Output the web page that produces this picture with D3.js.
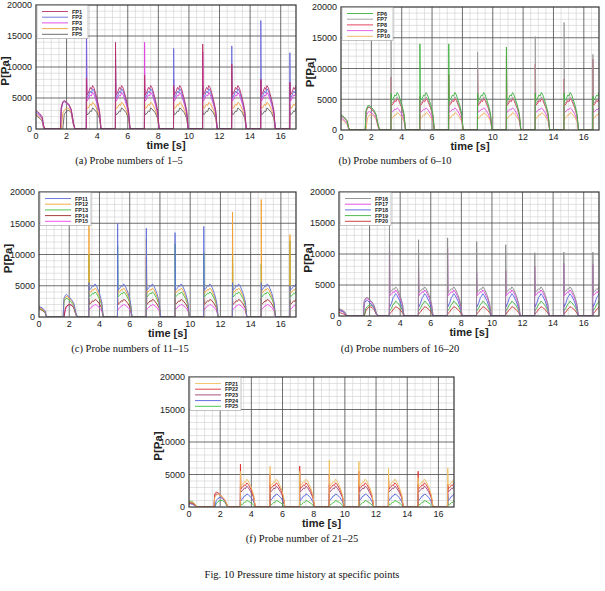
<!DOCTYPE html>
<html>
<head>
<meta charset="utf-8">
<script src="https://cdnjs.cloudflare.com/ajax/libs/d3/7.8.5/d3.min.js"></script>
<style>
  body { margin: 0; background: #fff; }
  svg { display: block; }
</style>
</head>
<body>
<svg id="chart"></svg>
<script>
var svgWidth = 605, svgHeight = 591;

// shared time grid (s)
var cycleStarts = [3.3, 5.2, 7.1, 9.0, 10.9, 12.8, 14.7, 16.6];
var hump0Times = [0, 0.1, 0.25, 0.4, 0.5, 0.6];
var hump1Times = [1.6, 1.65, 1.75, 1.85, 2.0, 2.15, 2.3, 2.45, 2.55];
var pulseOffsets = [0.03, 0.12, 0.25, 0.32, 0.4, 0.5, 0.7, 0.85, 0.95];
var xTicks = [0, 2, 4, 6, 8, 10, 12, 14, 16];
var yTicks = [0, 5000, 10000, 15000, 20000];

// (a) FP1-FP5
var namesA = ["FP1", "FP2", "FP3", "FP4", "FP5"];
var hump0A = [[3000, 2800, 2500, 2000, 600, 0], [2800, 2600, 2300, 1800, 400, 0], [2600, 2400, 2100, 1700, 300, 0], [2400, 2200, 1900, 1500, 200, 0], [2200, 2000, 1700, 1300, 100, 0]];
var hump1A = [[0, 3500, 4400, 4600, 4300, 4000, 3200, 1000, 0], [0, 3300, 4300, 4500, 4200, 3900, 3100, 900, 0], [0, 3000, 4200, 4400, 4100, 3800, 3000, 800, 0], [0, 0, 2500, 3000, 3400, 3300, 2700, 700, 0], [0, 0, 0, 2400, 2900, 3000, 2600, 600, 0]];
var pulseA = [[5500, 5800, 6700, 6400, 7000, 6600, 4800, 3000, 0], [5000, 5300, 6100, 5800, 6500, 6100, 4400, 2800, 0], [4500, 4800, 5500, 5300, 5900, 5500, 4000, 2500, 0], [3300, 3400, 4000, 3800, 4300, 4100, 3100, 2000, 0], [2300, 2400, 2900, 2800, 3400, 3200, 2600, 1700, 0]];
var spikesA = [[8200, 14000, 8700, 7000, 13700, 10500, 8000, 7500], [15000, 12500, 6500, 13000, 7000, 13400, 17500, 12300], [20000, 9000, 14000, 8000, 12400, 6000, 8000, 7500], [5500, 5000, 4500, 4500, 4500, 4500, 4500, 4000], [3500, 3000, 3000, 3000, 3000, 3000, 3000, 2800]];

// (b) FP6-FP10
var namesB = ["FP6", "FP7", "FP8", "FP9", "FP10"];
var hump0B = [[2500, 2300, 2000, 1500, 400, 0], [2300, 2100, 1800, 1400, 300, 0], [2400, 2200, 1900, 1500, 400, 0], [2000, 1800, 1500, 1100, 200, 0], [1800, 1600, 1300, 900, 100, 0]];
var hump1B = [[0, 3200, 3900, 4000, 3700, 3300, 2600, 800, 0], [0, 3000, 3700, 3800, 3500, 3100, 2500, 700, 0], [0, 2900, 3600, 3700, 3400, 3000, 2400, 700, 0], [0, 2200, 2800, 3000, 2800, 2500, 2000, 500, 0], [0, 0, 2000, 2400, 2500, 2300, 1800, 400, 0]];
var pulseB = [[4800, 5000, 5700, 5500, 6100, 5700, 4200, 2700, 0], [4300, 4500, 5100, 4900, 5400, 5100, 3800, 2400, 0], [4000, 4200, 4800, 4600, 5100, 4800, 3600, 2300, 0], [2900, 3000, 3400, 3300, 3600, 3400, 2600, 1700, 0], [1800, 2000, 2500, 2400, 2800, 2700, 2100, 1400, 0]];
var spikesB = [[6000, 14000, 14000, 6000, 13500, 6000, 6000, 5500], [15000, 5500, 5500, 12700, 5500, 15200, 17500, 12300], [8600, 5000, 9000, 10000, 12000, 10700, 8300, 11500], [5000, 4000, 4000, 4000, 4000, 4000, 4000, 3500], [2500, 2500, 2500, 2500, 2500, 2500, 2500, 2000]];

// (c) FP11-FP15
var namesC = ["FP11", "FP12", "FP13", "FP14", "FP15"];
var hump0C = [[1700, 1600, 1400, 1000, 0, 0], [1500, 1400, 1200, 900, 0, 0], [1400, 1300, 1100, 800, 0, 0], [1300, 1200, 1000, 700, 0, 0], [1600, 1500, 1300, 900, 0, 0]];
var hump1C = [[0, 3000, 3500, 3600, 3200, 2800, 2200, 600, 0], [0, 2700, 3200, 3300, 3000, 2600, 2000, 500, 0], [0, 2400, 2900, 3000, 2700, 2300, 1800, 400, 0], [0, 0, 1500, 1800, 2000, 1900, 1500, 300, 0], [0, 0, 1200, 1700, 2000, 1900, 1500, 300, 0]];
var pulseC = [[4300, 4500, 5000, 4900, 5300, 5000, 3800, 2400, 0], [3800, 4000, 4400, 4300, 4600, 4400, 3300, 2100, 0], [3200, 3400, 3800, 3700, 4000, 3800, 2900, 1900, 0], [2000, 2200, 2600, 2500, 2800, 2700, 2100, 1400, 0], [1200, 1400, 1800, 1800, 2000, 1900, 1500, 1000, 0]];
var spikesC = [[5500, 15000, 14200, 13500, 14500, 5500, 5500, 5000], [20000, 4800, 12500, 4800, 4800, 16800, 18800, 13200], [10000, 11500, 7500, 11700, 10300, 10400, 8500, 12200], [3000, 3000, 9500, 3000, 3000, 3000, 3000, 2800], [1500, 1500, 1500, 1500, 1500, 1500, 1500, 1300]];

// (d) FP16-FP20
var namesD = ["FP16", "FP17", "FP18", "FP19", "FP20"];
var hump0D = [[1200, 1100, 900, 600, 0, 0], [1000, 900, 800, 500, 0, 0], [900, 800, 700, 400, 0, 0], [1100, 1000, 800, 500, 0, 0], [600, 500, 400, 200, 0, 0]];
var hump1D = [[0, 2500, 2900, 3000, 2700, 2300, 1700, 400, 0], [0, 2300, 2700, 2800, 2500, 2100, 1600, 400, 0], [0, 2000, 2400, 2500, 2200, 1800, 1300, 300, 0], [0, 0, 1200, 1500, 1800, 1700, 1300, 300, 0], [0, 0, 800, 1200, 1500, 1400, 1000, 200, 0]];
var pulseD = [[3800, 4000, 4400, 4300, 4700, 4400, 3300, 2000, 0], [3300, 3500, 3900, 3800, 4200, 3900, 2900, 1800, 0], [1500, 2000, 3000, 3200, 3600, 3300, 2300, 1200, 0], [900, 1200, 1900, 2000, 2400, 2200, 1600, 900, 0], [400, 600, 1100, 1200, 1500, 1400, 1000, 500, 0]];
var spikesD = [[15000, 12300, 12600, 12000, 11500, 10200, 10300, 10300], [11700, 8000, 11000, 7000, 7300, 8000, 8500, 8300], [2000, 2000, 2000, 2000, 2000, 2000, 2000, 2000], [1200, 1200, 1200, 1200, 1200, 1200, 1200, 1200], [600, 600, 600, 600, 600, 600, 600, 600]];

// (f) FP21-FP25
var namesF = ["FP21", "FP22", "FP23", "FP24", "FP25"];
var hump0F = [[700, 800, 700, 400, 0, 0], [600, 700, 600, 300, 0, 0], [500, 600, 500, 200, 0, 0], [400, 500, 400, 200, 0, 0], [800, 900, 800, 400, 0, 0]];
var hump1F = [[0, 1500, 1800, 2000, 1800, 1500, 1100, 300, 0], [0, 2000, 2300, 2200, 1900, 1500, 1100, 300, 0], [0, 1700, 2000, 2000, 1800, 1400, 1000, 200, 0], [0, 0, 1000, 1300, 1500, 1300, 900, 200, 0], [0, 0, 500, 800, 1000, 1000, 700, 100, 0]];
var pulseF = [[3200, 3400, 3900, 3800, 4300, 4000, 3000, 1800, 0], [2800, 3000, 3400, 3300, 3700, 3500, 2600, 1600, 0], [2300, 2500, 2900, 2800, 3200, 3000, 2200, 1400, 0], [1000, 1200, 1700, 1700, 2000, 1900, 1400, 800, 0], [300, 400, 700, 700, 1000, 900, 600, 300, 0]];
var spikesF = [[5500, 6300, 5500, 7200, 7000, 6000, 4500, 6000], [6600, 5000, 6300, 5000, 5500, 4500, 5500, 3500], [3500, 3500, 3500, 3500, 3500, 3500, 3500, 3500], [2000, 2000, 2000, 2000, 2000, 2000, 2000, 2000], [1000, 1000, 1000, 1000, 1000, 1000, 1000, 1000]];

// line colours per panel
var colorsA = ["#b8306a", "#6a6ad8", "#e040e0", "#f0a040", "#606060"];
var colorsB = ["#40b040", "#9a9a9a", "#e03050", "#e050e0", "#f0b060"];
var colorsC = ["#6070d8", "#f0a030", "#40c040", "#a02828", "#f040f0"];
var colorsD = ["#8a8a8a", "#e040e0", "#5060e0", "#40b040", "#c83030"];
var colorsF = ["#f0c060", "#e03030", "#a04070", "#5060e0", "#40c040"];

var panels = [
  {names: namesA, h0: hump0A, h1: hump1A, pl: pulseA, sp: spikesA, colors: colorsA,
   left: 36, right: 296, top: 5, bottom: 129, caption: "(a) Probe numbers of 1\u20135", cx: 129, cy: 164},
  {names: namesB, h0: hump0B, h1: hump1B, pl: pulseB, sp: spikesB, colors: colorsB,
   left: 341, right: 599, top: 7, bottom: 130, caption: "(b) Probe numbers of 6\u201310", cx: 395, cy: 164},
  {names: namesC, h0: hump0C, h1: hump1C, pl: pulseC, sp: spikesC, colors: colorsC,
   left: 39, right: 296, top: 192, bottom: 317, caption: "(c) Probe numbers of 11\u201315", cx: 130, cy: 352},
  {names: namesD, h0: hump0D, h1: hump1D, pl: pulseD, sp: spikesD, colors: colorsD,
   left: 339, right: 599, top: 192, bottom: 316, caption: "(d) Probe numbers of 16\u201320", cx: 400, cy: 352},
  {names: namesF, h0: hump0F, h1: hump1F, pl: pulseF, sp: spikesF, colors: colorsF,
   left: 189, right: 454, top: 377, bottom: 507, caption: "(f) Probe number of 21\u201325", cx: 302, cy: 542}
];

var svg = d3.select("#chart")
            .attr("width", svgWidth)
            .attr("height", svgHeight);

// turn the read-off levels into [t, p] points
function buildSeries(h0, h1, pl, sp) {
  var pts = [];
  h0.forEach(function(v, i) { pts.push([hump0Times[i], v]); });
  h1.forEach(function(v, i) { pts.push([hump1Times[i], v]); });
  cycleStarts.forEach(function(s, c) {
    pts.push([s - 0.01, 0]);
    pts.push([s, Math.max(sp[c], pl[0])]);
    pulseOffsets.forEach(function(o, i) { pts.push([s + o, pl[i]]); });
    pts.push([s + 1.0, 0]);
  });
  pts.push([17, 0]);
  return pts;
}

panels.forEach(function(p, pi) {
  var x = d3.scaleLinear().domain([0, 17]).range([p.left, p.right]);
  var y = d3.scaleLinear().domain([0, 20000]).range([p.bottom, p.top]);
  var g = svg.append("g");

  var clipId = "clip" + pi;
  svg.append("clipPath").attr("id", clipId)
    .append("rect")
      .attr("x", p.left).attr("y", p.top)
      .attr("width", p.right - p.left).attr("height", p.bottom - p.top);

  // minor grid
  g.append("g").selectAll("line")
    .data(d3.range(0.5, 17, 0.5).filter(function(v) { return v % 2 !== 0; }))
    .enter().append("line")
      .attr("x1", function(d) { return x(d); }).attr("x2", function(d) { return x(d); })
      .attr("y1", p.top).attr("y2", p.bottom)
      .style("stroke", "#d0d0d0").style("stroke-width", 0.6);
  g.append("g").selectAll("line")
    .data(d3.range(1000, 20000, 1000).filter(function(v) { return v % 5000 !== 0; }))
    .enter().append("line")
      .attr("x1", p.left).attr("x2", p.right)
      .attr("y1", function(d) { return y(d); }).attr("y2", function(d) { return y(d); })
      .style("stroke", "#d0d0d0").style("stroke-width", 0.6);

  // major grid
  g.append("g").selectAll("line")
    .data(xTicks.slice(1))
    .enter().append("line")
      .attr("x1", function(d) { return x(d); }).attr("x2", function(d) { return x(d); })
      .attr("y1", p.top).attr("y2", p.bottom)
      .style("stroke", "#4a4a4a").style("stroke-width", 0.8);
  g.append("g").selectAll("line")
    .data(yTicks.slice(1, -1))
    .enter().append("line")
      .attr("x1", p.left).attr("x2", p.right)
      .attr("y1", function(d) { return y(d); }).attr("y2", function(d) { return y(d); })
      .style("stroke", "#4a4a4a").style("stroke-width", 0.8);

  // data lines
  var line = d3.line()
    .x(function(d) { return x(d[0]); })
    .y(function(d) { return y(d[1]); });
  var lines = g.append("g").attr("clip-path", "url(#" + clipId + ")");
  for (var k = p.names.length - 1; k >= 0; k--) {
    lines.append("path")
      .datum(buildSeries(p.h0[k], p.h1[k], p.pl[k], p.sp[k]))
      .attr("d", line)
      .style("fill", "none")
      .style("stroke", p.colors[k])
      .style("stroke-width", 0.9)
      .style("stroke-linejoin", "round");
  }

  // frame
  g.append("rect")
    .attr("x", p.left).attr("y", p.top)
    .attr("width", p.right - p.left).attr("height", p.bottom - p.top)
    .style("fill", "none").style("stroke", "#333").style("stroke-width", 1.2);

  // tick labels
  g.append("g").selectAll("text")
    .data(xTicks)
    .enter().append("text")
      .attr("x", function(d) { return x(d); })
      .attr("y", p.bottom + 9.5)
      .attr("text-anchor", "middle")
      .style("font", "9px 'Liberation Sans', Arial, sans-serif")
      .style("fill", "#222")
      .text(function(d) { return d; });
  g.append("g").selectAll("text")
    .data(yTicks)
    .enter().append("text")
      .attr("x", p.left - 4)
      .attr("y", function(d) { return y(d) + 3.3; })
      .attr("text-anchor", "end")
      .style("font", "9px 'Liberation Sans', Arial, sans-serif")
      .style("fill", "#222")
      .text(function(d) { return d; });

  // axis titles
  g.append("text")
    .attr("x", (p.left + p.right) / 2)
    .attr("y", p.bottom + 20)
    .attr("text-anchor", "middle")
    .style("font", "bold 11px 'Liberation Sans', Arial, sans-serif")
    .style("fill", "#222")
    .text("time [s]");
  var ly = (p.top + p.bottom) / 2 + 4;
  g.append("text")
    .attr("transform", "translate(" + (p.left - 27.5) + "," + ly + ") rotate(-90)")
    .attr("text-anchor", "middle")
    .style("font", "bold 11.5px 'Liberation Sans', Arial, sans-serif")
    .style("fill", "#222")
    .text("P[Pa]");

  // legend
  var lg = g.append("g").attr("transform", "translate(" + (p.left + 1) + "," + (p.top + 0.5) + ")");
  lg.append("rect")
    .attr("width", 51).attr("height", 33)
    .style("fill", "#fff").style("stroke", "#999").style("stroke-width", 0.6);
  p.names.forEach(function(n, k) {
    var ry = 6 + k * 5.7;
    lg.append("line")
      .attr("x1", 5).attr("x2", 31).attr("y1", ry).attr("y2", ry)
      .style("stroke", p.colors[k]).style("stroke-width", 0.9);
    lg.append("text")
      .attr("x", 35).attr("y", ry + 2)
      .style("font", "bold 5.5px 'Liberation Sans', Arial, sans-serif")
      .style("fill", "#222")
      .text(n);
  });

  // caption
  svg.append("text")
    .attr("x", p.cx).attr("y", p.cy)
    .attr("text-anchor", "middle")
    .style("font", "10.5px 'Liberation Serif', 'Times New Roman', serif")
    .style("fill", "#111")
    .text(p.caption);
});

svg.append("text")
  .attr("x", 302).attr("y", 578)
  .attr("text-anchor", "middle")
  .style("font", "10.5px 'Liberation Serif', 'Times New Roman', serif")
  .style("fill", "#111")
  .text("Fig. 10 Pressure time history at specific points");
</script>
</body>
</html>
